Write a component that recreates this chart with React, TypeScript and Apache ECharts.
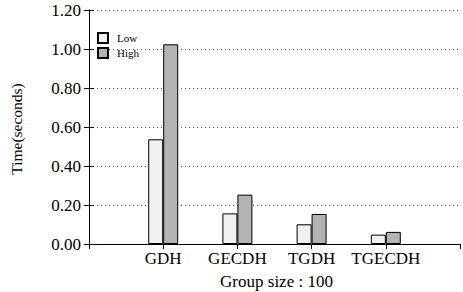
import React, { useEffect, useRef } from "react";
import * as echarts from "echarts";

const categories = ["GDH", "GECDH", "TGDH", "TGECDH"];
const categoryPositions = [1, 2, 3, 4];
const lowValues = [0.537, 0.157, 0.101, 0.048];
const highValues = [1.024, 0.253, 0.154, 0.062];
const yTicks = [0, 0.2, 0.4, 0.6, 0.8, 1.0, 1.2];
const seriesNames = ["Low", "High"];
const xTitle = "Group size : 100";
const yTitle = "Time(seconds)";

const FONT = "'Liberation Serif', 'Times New Roman', serif";

export default function App() {
  const ref = useRef<HTMLDivElement>(null);
  useEffect(() => {
    if (!ref.current) return;
    const chart = echarts.init(ref.current, null, { renderer: "svg" });
    const yMin = yTicks[0];
    const yMax = yTicks[yTicks.length - 1];
    const yInterval = yTicks[1] - yTicks[0];
    const xAxisBase = {
      type: "value" as const,
      min: 0,
      max: 5,
      interval: 1,
      splitLine: { show: false },
      axisLine: { show: true, lineStyle: { color: "#000", width: 1 } },
    };
    chart.setOption({
      animation: false,
      backgroundColor: "#fff",
      grid: { left: 89, top: 10, width: 375, height: 234, containLabel: false },
      legend: {
        orient: "vertical",
        left: 97,
        top: 32,
        itemWidth: 10,
        itemHeight: 10,
        itemGap: 3,
        icon: "rect",
        padding: 0,
        textStyle: { fontFamily: FONT, fontSize: 11, color: "#000", lineHeight: 10, padding: [0, 0, 0, 4] },
        data: seriesNames,
      },
      xAxis: [
        {
          ...xAxisBase,
          position: "bottom",
          axisTick: { show: false },
          axisLabel: {
            fontFamily: FONT,
            fontSize: 17,
            color: "#000",
            margin: 6,
            formatter: (v: number) => {
              const i = categoryPositions.indexOf(v);
              return i >= 0 ? categories[i] : "";
            },
          },
        },
        {
          ...xAxisBase,
          position: "top",
          axisTick: { show: true, inside: true, length: 5, lineStyle: { color: "#000" } },
          axisLabel: { show: false },
        },
      ],
      yAxis: [
        {
          type: "value",
          min: yMin,
          max: yMax,
          interval: yInterval,
          position: "left",
          axisLine: { show: true, lineStyle: { color: "#000", width: 1 } },
          axisTick: { show: true, inside: true, length: 5, lineStyle: { color: "#000" } },
          axisLabel: {
            fontFamily: FONT,
            fontSize: 17,
            color: "#000",
            margin: 8,
            formatter: (v: number) => v.toFixed(2),
          },
          splitLine: { show: true, lineStyle: { color: "#555", type: [1, 3], width: 1 } },
        },
        {
          type: "value",
          min: yMin,
          max: yMax,
          interval: yInterval,
          position: "right",
          axisLine: { show: true, lineStyle: { color: "#000", width: 1 } },
          axisTick: { show: true, inside: true, length: 5, lineStyle: { color: "#000" } },
          axisLabel: { show: false },
          splitLine: { show: false },
        },
      ],
      series: [
        {
          name: seriesNames[0],
          type: "bar",
          xAxisIndex: 0,
          yAxisIndex: 0,
          barWidth: 15,
          barGap: "0%",
          itemStyle: { color: "#f0f0f0", borderColor: "#000", borderWidth: 1 },
          data: categoryPositions.map((x, i) => [x, lowValues[i]]),
        },
        {
          name: seriesNames[1],
          type: "bar",
          xAxisIndex: 0,
          yAxisIndex: 0,
          barWidth: 15,
          barGap: "0%",
          itemStyle: { color: "#b3b3b3", borderColor: "#000", borderWidth: 1 },
          data: categoryPositions.map((x, i) => [x, highValues[i]]),
        },
      ],
      graphic: [
        {
          type: "text",
          x: 16,
          y: 129,
          rotation: Math.PI / 2,
          style: {
            text: yTitle,
            fontFamily: FONT,
            fontSize: 15.5,
            fill: "#000",
            align: "center",
            verticalAlign: "middle",
          },
        },
        {
          type: "text",
          x: 276.5,
          y: 281,
          style: {
            text: xTitle,
            fontFamily: FONT,
            fontSize: 17,
            fill: "#000",
            align: "center",
            verticalAlign: "middle",
          },
        },
      ],
    });
    return () => chart.dispose();
  }, []);
  return <div ref={ref} style={{ width: 463, height: 292, position: "absolute", left: 0, top: 0 }} />;
}
